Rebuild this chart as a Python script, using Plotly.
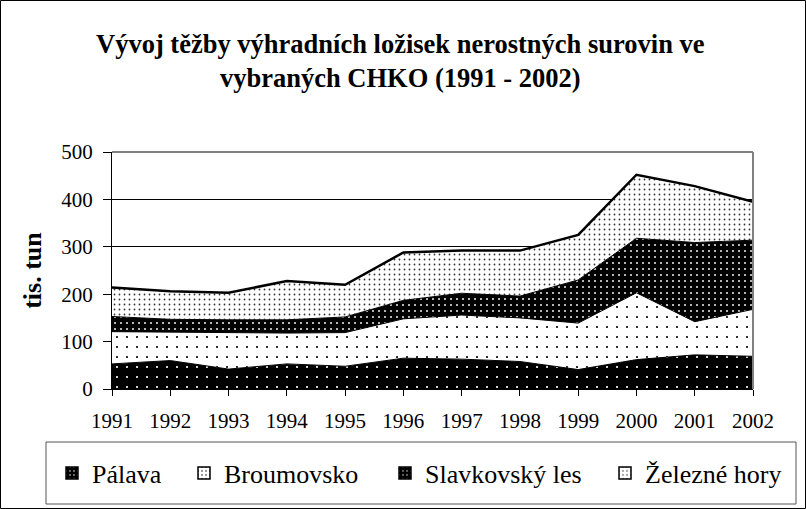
import plotly.graph_objects as go

years = [1991, 1992, 1993, 1994, 1995, 1996, 1997, 1998, 1999, 2000, 2001, 2002]
palava = [53, 60, 42, 53, 48, 65, 63, 58, 41, 62, 72, 69]
broumovsko = [68, 60, 77, 65, 71, 83, 93, 92, 98, 141, 70, 99]
slavkovsky = [32, 27, 27, 28, 33, 39, 46, 46, 91, 115, 167, 146]
zelezne = [61, 59, 57, 82, 68, 101, 90, 96, 95, 134, 119, 81]

names = ["Pálava", "Broumovsko", "Slavkovský les", "Železné hory"]
series = [palava, broumovsko, slavkovsky, zelezne]
patterns = [
    dict(shape=".", bgcolor="black", fgcolor="white", size=10, solidity=0.035, fillmode="replace"),
    dict(shape=".", bgcolor="white", fgcolor="black", size=10, solidity=0.035, fillmode="replace"),
    dict(shape=".", bgcolor="black", fgcolor="#e0e0e0", size=6, solidity=0.1, fillmode="replace"),
    dict(shape=".", bgcolor="white", fgcolor="#333333", size=5, solidity=0.1, fillmode="replace"),
]
line_widths = [1, 1, 1, 2.5]
legend_ids = ["legend", "legend2", "legend3", "legend4"]
legend_left_px = [52, 184, 385, 605]

FONT = "Liberation Serif, Times New Roman, serif"

fig = go.Figure()
for nm, vals, pat, lw in zip(names, series, patterns, line_widths):
    fig.add_trace(go.Scatter(
        x=years, y=vals, name=nm, mode="lines", stackgroup="one",
        line=dict(color="black", width=lw), fillpattern=pat,
        showlegend=False, hoverinfo="x+y+name",
    ))

# legend entries (square pattern icons) on a hidden auxiliary axis
for nm, pat, lg in zip(names, patterns, legend_ids):
    fig.add_trace(go.Bar(
        x=[0], y=[1], name=nm, showlegend=True, xaxis="x2", yaxis="y2",
        hoverinfo="skip", legend=lg,
        marker=dict(color=pat["bgcolor"], line=dict(color="black", width=1.5),
                    pattern=dict(shape=".", bgcolor=pat["bgcolor"], fgcolor=pat["fgcolor"],
                                 size=5, solidity=0.12, fillmode="replace")),
    ))

L, R, T, B = 112, 53, 152, 120
W, H = 806, 509
pw, ph = W - L - R, H - T - B

def px2x(p):
    return (p - L) / pw

def py2y(p):
    return (H - B - p) / ph

legend_style = dict(
    orientation="h", xref="container", yref="container",
    xanchor="left", y=1 - 473 / H, yanchor="middle",
    font=dict(family=FONT, size=26, color="black"),
    bgcolor="rgba(0,0,0,0)", borderwidth=0,
)
legend_layout = {lg: dict(legend_style, x=lx / W) for lg, lx in zip(legend_ids, legend_left_px)}

fig.update_layout(
    width=W, height=H,
    margin=dict(l=L, r=R, t=T, b=B, autoexpand=False),
    paper_bgcolor="white", plot_bgcolor="white",
    font=dict(family=FONT, color="black", size=21),
    showlegend=True,
    **legend_layout,
    xaxis=dict(
        range=[1991, 2002], tickmode="array", tickvals=years, ticktext=[str(y) for y in years],
        showgrid=False, zeroline=False, showline=True, linecolor="black", linewidth=1,
        ticks="outside", ticklen=6, tickcolor="black", tickfont=dict(size=21),
        ticklabelstandoff=7,
    ),
    yaxis=dict(
        range=[0, 500], dtick=100, tick0=0,
        showgrid=True, gridcolor="black", gridwidth=1, zeroline=False,
        showline=True, linecolor="black", linewidth=1,
        ticks="outside", ticklen=8, tickcolor="black", tickfont=dict(size=21),
        ticklabelstandoff=6,
        title=dict(text="<b>tis. tun</b>", font=dict(size=26), standoff=12),
    ),
    xaxis2=dict(visible=False, range=[10, 11], domain=[0, 1], anchor="y2", overlaying="x"),
    yaxis2=dict(visible=False, range=[10, 11], domain=[0, 1], anchor="x2", overlaying="y"),
    annotations=[
        dict(text="<b>Vývoj těžby výhradních ložisek nerostných surovin ve<br>vybraných CHKO (1991 - 2002)</b>",
             xref="paper", yref="paper", x=px2x(400), y=py2y(61), xanchor="center", yanchor="middle",
             showarrow=False, align="center", font=dict(family=FONT, size=26.5, color="black")),
    ],
    shapes=[
        dict(type="line", xref="paper", yref="paper", x0=0, x1=1, y0=1, y1=1,
             line=dict(color="#808080", width=2)),
        dict(type="line", xref="paper", yref="paper", x0=1, x1=1, y0=0, y1=1,
             line=dict(color="#808080", width=2)),
        dict(type="rect", xref="paper", yref="paper",
             x0=px2x(46), x1=px2x(796), y0=py2y(504), y1=py2y(442),
             line=dict(color="#555555", width=1)),
        dict(type="rect", xref="paper", yref="paper",
             x0=px2x(0.5), x1=px2x(805.5), y0=py2y(508.5), y1=py2y(0.5),
             line=dict(color="black", width=1)),
    ],
)

fig.write_html("out.html", config={"displayModeBar": False},
               post_script="document.body.style.margin='0';document.body.style.overflow='hidden';")
